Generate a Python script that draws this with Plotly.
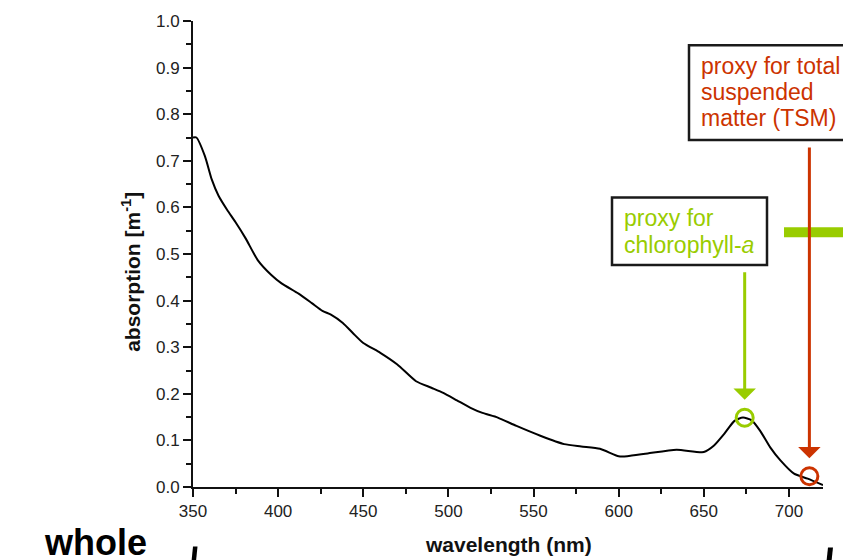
import plotly.graph_objects as go

# Absorption spectrum of the whole water sample
wavelength = [350, 352, 357, 361, 365, 370, 375, 381, 388, 396, 402, 412, 420, 426,
              431, 438, 444, 450, 460, 470, 481, 490, 497, 505, 513, 520, 529, 540,
              554, 568, 578, 589, 600, 605, 617, 634, 650, 656, 662, 668, 673, 678,
              683, 689, 695, 703, 711, 720]
absorption = [0.750, 0.750, 0.710, 0.660, 0.625, 0.595, 0.568, 0.533, 0.487, 0.455,
              0.437, 0.415, 0.394, 0.378, 0.370, 0.352, 0.330, 0.309, 0.288, 0.263,
              0.227, 0.213, 0.202, 0.186, 0.170, 0.159, 0.149, 0.131, 0.110, 0.092,
              0.087, 0.082, 0.066, 0.066, 0.072, 0.080, 0.075, 0.089, 0.114, 0.142,
              0.149, 0.1435, 0.121, 0.085, 0.057, 0.0285, 0.018, 0.004]

# Proxy wavelengths and the absorption read at each
chl_wl, chl_abs = 674, 0.1485
tsm_wl, tsm_abs = 712, 0.023

x_ticks = [350, 400, 450, 500, 550, 600, 650, 700]
y_ticks = [0.0, 0.1, 0.2, 0.3, 0.4, 0.5, 0.6, 0.7, 0.8, 0.9, 1.0]

GREEN = "#99cc00"
RED = "#cc3300"
FONT = "Liberation Sans, Arial, sans-serif"

W, H = 843, 560
ML, MR, MT, MB = 193, 20, 17, 73
PW, PH = W - ML - MR, H - MT - MB


def px(x):
    return (x - ML) / PW


def py(y):
    return (H - MB - y) / PH


fig = go.Figure()
fig.add_trace(go.Scatter(
    x=wavelength, y=absorption, mode="lines",
    line=dict(color="black", width=2, shape="spline", smoothing=0.6),
    cliponaxis=False, showlegend=False, hoverinfo="x+y"))

fig.add_trace(go.Scatter(
    x=[chl_wl], y=[chl_abs], mode="markers", cliponaxis=False, showlegend=False,
    marker=dict(size=17, color="rgba(0,0,0,0)", line=dict(color=GREEN, width=3))))
fig.add_trace(go.Scatter(
    x=[tsm_wl], y=[tsm_abs], mode="markers", cliponaxis=False, showlegend=False,
    marker=dict(size=17, color="rgba(0,0,0,0)", line=dict(color=RED, width=3))))

shapes = [
    # label boxes
    dict(type="rect", xref="paper", yref="paper",
         x0=px(612), x1=px(767), y0=py(263), y1=py(195),
         line=dict(color="#1a1a1a", width=2.5), fillcolor="white", layer="above"),
    dict(type="rect", xref="paper", yref="paper",
         x0=px(689), x1=px(860), y0=py(137), y1=py(41.5),
         line=dict(color="#1a1a1a", width=2.5), fillcolor="white", layer="above"),
    # green bar
    dict(type="rect", xref="paper", yref="paper",
         x0=px(784), x1=px(860), y0=py(235), y1=py(225),
         line=dict(width=0), fillcolor=GREEN, layer="above"),
    # marks along the bottom edge
    dict(type="path", xref="paper", yref="paper",
         path=f"M {px(193)} {py(547)} L {px(197.5)} {py(547)} L {px(196)} {py(562)} L {px(191.5)} {py(562)} Z",
         fillcolor="black", line=dict(width=0), layer="above"),
    dict(type="path", xref="paper", yref="paper",
         path=f"M {px(828)} {py(548)} L {px(833)} {py(548)} L {px(831.5)} {py(562)} L {px(826.5)} {py(562)} Z",
         fillcolor="black", line=dict(width=0), layer="above"),
]

annotations = [
    # arrows pointing at the proxy wavelengths
    dict(x=chl_wl, y=chl_abs, xref="x", yref="y", axref="x", ayref="y",
         ax=chl_wl, ay=py(269), text="", showarrow=True, arrowhead=1,
         arrowsize=1.25, arrowwidth=3, arrowcolor=GREEN, standoff=18),
    dict(x=tsm_wl, y=tsm_abs, xref="x", yref="y", axref="x", ayref="y",
         ax=tsm_wl, ay=py(143), text="", showarrow=True, arrowhead=1,
         arrowsize=1.25, arrowwidth=3, arrowcolor=RED, standoff=18),
    # axis titles
    dict(x=px(508), y=py(545), xref="paper", yref="paper", showarrow=False,
         xanchor="center", yanchor="middle",
         text="<b>wavelength (nm)</b>", font=dict(family=FONT, size=21, color="#111")),
    dict(x=px(131), y=py(270), xref="paper", yref="paper", showarrow=False,
         xanchor="center", yanchor="middle",
         textangle=-90, text="<b>absorption [m<sup>-1</sup>]</b>",
         font=dict(family=FONT, size=21, color="#111")),
    # sample label
    dict(x=px(42), y=py(543), xref="paper", yref="paper", showarrow=False,
         xanchor="left", yanchor="middle", text="<b>whole</b>",
         font=dict(family=FONT, size=36, color="black")),
]

red_lines = [("proxy for total", 62), ("suspended", 88.5), ("matter (TSM)", 115)]
for txt, yc in red_lines:
    annotations.append(dict(x=px(699), y=py(yc), xref="paper", yref="paper",
                            showarrow=False, xanchor="left", yanchor="middle", text=txt,
                            font=dict(family=FONT, size=23, color=RED)))
green_lines = [("proxy for", 216), ("chlorophyll-<i>a</i>", 243)]
for txt, yc in green_lines:
    annotations.append(dict(x=px(622), y=py(yc), xref="paper", yref="paper",
                            showarrow=False, xanchor="left", yanchor="middle", text=txt,
                            font=dict(family=FONT, size=23, color=GREEN)))

axis_common = dict(showline=True, linecolor="#111", linewidth=2, ticks="outside",
                   ticklen=8, tickwidth=2, tickcolor="#111", showgrid=False,
                   zeroline=False, mirror=False,
                   tickfont=dict(family=FONT, size=17, color="#222"))

fig.update_layout(
    width=W, height=H,
    margin=dict(l=ML, r=MR, t=MT, b=MB),
    paper_bgcolor="white", plot_bgcolor="white",
    xaxis=dict(range=[350, 720], tickvals=x_ticks,
               minor=dict(dtick=25, tick0=350, ticks="outside", ticklen=5,
                          tickwidth=2, tickcolor="#111"),
               **axis_common),
    yaxis=dict(range=[0, 1.0], tickvals=y_ticks, tickformat=".1f",
               minor=dict(dtick=0.05, tick0=0, ticks="outside", ticklen=5,
                          tickwidth=2, tickcolor="#111"),
               **axis_common),
    shapes=shapes,
    annotations=annotations,
    font=dict(family=FONT),
)

fig.write_html("out.html")
